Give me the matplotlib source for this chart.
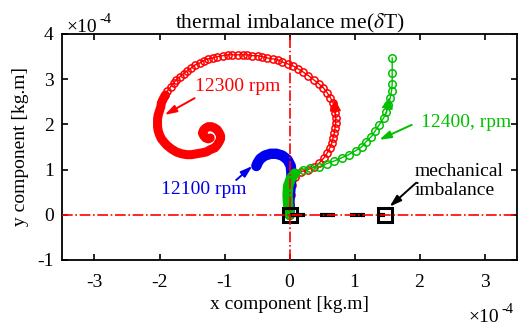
import numpy as np
import matplotlib
matplotlib.use("Agg")
import matplotlib.pyplot as plt
from matplotlib.patches import FancyArrowPatch

plt.rcParams['font.family'] = ['Liberation Serif', 'DejaVu Serif']
plt.rcParams['mathtext.fontset'] = 'stix'
plt.rcParams['axes.unicode_minus'] = False

SCALE = 1e-4  # all values below are in units of 1e-4 kg.m

# 12300 rpm: ring part (open circles) and the dense part that winds into the spiral
red_x = [0.00, 0.00, 0.02, 0.04, 0.09, 0.18, 0.28, 0.38, 0.46, 0.53, 0.58, 0.62, 0.65,
         0.67, 0.69, 0.70, 0.71, 0.71, 0.70, 0.69, 0.67, 0.63, 0.58, 0.52, 0.45, 0.37,
         0.29, 0.21, 0.13, 0.05, -0.03, -0.11, -0.18, -0.26, -0.34, -0.42, -0.49, -0.57,
         -0.65, -0.72, -0.80, -0.88, -0.95, -1.03, -1.11, -1.18, -1.26, -1.32, -1.38,
         -1.45, -1.51, -1.57, -1.63, -1.69, -1.74, -1.78, -1.83, -1.88, -1.91]
red_y = [0.00, 0.22, 0.44, 0.66, 0.84, 0.95, 1.00, 1.06, 1.15, 1.26, 1.37, 1.48, 1.59,
         1.70, 1.81, 1.92, 2.04, 2.15, 2.26, 2.37, 2.48, 2.59, 2.70, 2.81, 2.90, 2.99,
         3.08, 3.16, 3.23, 3.30, 3.34, 3.38, 3.43, 3.45, 3.47, 3.50, 3.52, 3.52, 3.54,
         3.54, 3.54, 3.54, 3.54, 3.52, 3.50, 3.47, 3.45, 3.41, 3.36, 3.32, 3.25, 3.19,
         3.12, 3.05, 2.99, 2.92, 2.83, 2.74, 2.65]
red_dense_x = [-1.91, -1.94, -1.97, -1.98, -2.00, -2.02, -2.03, -2.03, -2.03, -2.02, -2.00,
               -1.97, -1.92, -1.88, -1.82, -1.74, -1.66, -1.58, -1.51, -1.43, -1.35, -1.28,
               -1.22, -1.15, -1.11, -1.08, -1.06, -1.06, -1.08, -1.11, -1.15, -1.20, -1.25,
               -1.29, -1.32, -1.34, -1.32, -1.29, -1.25, -1.22]
red_dense_y = [2.65, 2.57, 2.48, 2.39, 2.30, 2.21, 2.12, 2.04, 1.95, 1.86, 1.77, 1.68, 1.59,
               1.53, 1.46, 1.39, 1.35, 1.33, 1.33, 1.35, 1.37, 1.39, 1.44, 1.48, 1.55, 1.62,
               1.68, 1.75, 1.81, 1.88, 1.92, 1.95, 1.95, 1.92, 1.88, 1.81, 1.75, 1.70, 1.68,
               1.70]

# 12100 rpm
blue_x = [0.00, 0.00, 0.02, 0.03, 0.02, -0.03, -0.11, -0.20, -0.29, -0.38, -0.45, -0.49, -0.51]
blue_y = [0.00, 0.33, 0.66, 0.91, 1.08, 1.22, 1.31, 1.35, 1.35, 1.31, 1.24, 1.15, 1.08]

# 12400 rpm: dense start, then open circles
green_dense_x = [0.00, -0.02, -0.03, -0.02, 0.02, 0.08]
green_dense_y = [0.00, 0.22, 0.44, 0.64, 0.80, 0.91]
green_x = [0.08, 0.20, 0.32, 0.45, 0.57, 0.69, 0.80, 0.91, 1.02, 1.11, 1.18, 1.26, 1.32,
           1.38, 1.45, 1.49, 1.52, 1.55, 1.57, 1.58, 1.58, 1.58]
green_y = [0.93, 1.00, 1.04, 1.06, 1.13, 1.19, 1.26, 1.33, 1.42, 1.50, 1.62, 1.73, 1.86,
           1.99, 2.15, 2.28, 2.43, 2.59, 2.74, 2.90, 3.14, 3.47]

# mechanical imbalance
mech_x = [0.00, 1.47]
mech_y = [0.00, 0.00]

x_ticks = [-3, -2, -1, 0, 1, 2, 3]
y_ticks = [-1, 0, 1, 2, 3, 4]
x_tick_labels = ['-3', '-2', '-1', '0', '1', '2', '3']
y_tick_labels = ['-1', '0', '1', '2', '3', '4']

fig = plt.figure(figsize=(5.29, 3.25), dpi=100)
ax = fig.add_axes([62 / 529, 1 - 260 / 325, 455 / 529, 226 / 325])

s = lambda v: np.array(v) * SCALE

# red
ax.plot(s(red_x), s(red_y), '-o', color='red', lw=1, ms=5.2, mew=1.1, mfc='none', zorder=2)
ax.plot(s(red_dense_x), s(red_dense_y), '-', color='red', lw=6.5,
        solid_capstyle='round', solid_joinstyle='round', zorder=2)
# blue
ax.plot(s(blue_x), s(blue_y), '-', color='#0000ee', lw=7.5,
        solid_capstyle='round', solid_joinstyle='round', zorder=3)
# green
ax.plot(s(green_dense_x), s(green_dense_y), '-', color='#00c000', lw=7.5,
        solid_capstyle='round', solid_joinstyle='round', zorder=4)
ax.plot(s(green_x), s(green_y), '-o', color='#00c000', lw=1, ms=5.4, mew=1.1, mfc='none', zorder=4)
# black
ax.plot(s(mech_x), s(mech_y), '-', color='black', lw=3, dashes=(3.6, 3.6),
        dash_capstyle='butt', zorder=5)
ax.plot(s(mech_x), s(mech_y), 's', color='black', ms=10, mew=2.2, mfc='none', zorder=6)

# reference axes
ax.axhline(0, color='red', ls='-.', lw=1.2, zorder=7)
ax.axvline(0, color='red', ls='-.', lw=1.2, zorder=7)

# direction arrow heads on curves
def head(p0, p1, color):
    ax.add_patch(FancyArrowPatch(s(p0), s(p1), arrowstyle='-|>,head_length=7,head_width=3.5',
                                 color=color, lw=1, shrinkA=0, shrinkB=0, zorder=8))

head((0.71, 2.10), (0.70, 2.55), 'red')
head((1.49, 2.25), (1.54, 2.60), '#00c000')

# labels with arrows
def label(text, xy_text, xy_tail, xy_head, color):
    ax.text(s(xy_text[0]), s(xy_text[1]), text, color=color, fontsize=14,
            ha='left', va='center', zorder=9)
    ax.annotate('', xy=s(xy_head), xytext=s(xy_tail),
                arrowprops=dict(arrowstyle='-|>,head_length=0.7,head_width=0.22',
                                color=color, lw=1.4, shrinkA=0, shrinkB=0), zorder=9)

label('12300 rpm', (-1.46, 2.83), (-1.46, 2.58), (-1.92, 2.21), 'red')
label('12100 rpm', (-1.97, 0.55), (-0.82, 0.77), (-0.57, 1.08), '#0000ee')
label('12400, rpm', (2.03, 2.04), (1.88, 1.99), (1.38, 1.66), '#00c000')
label('mechanical\nimbalance', (1.92, 0.75), (1.95, 0.71), (1.54, 0.18), 'black')

ax.set_xlim(-3.5e-4, 3.5e-4)
ax.set_ylim(-1e-4, 4e-4)
ax.set_xticks(s(x_ticks), x_tick_labels)
ax.set_yticks(s(y_ticks), y_tick_labels)
ax.tick_params(direction='in', top=True, right=True, labelsize=14, length=4, width=1.2)
ax.tick_params(axis='x', pad=10)
ax.tick_params(axis='y', pad=6)
for sp in ax.spines.values():
    sp.set_linewidth(1.3)

# exponent markers
ax.annotate('\u00d710', xy=(0.01, 1.0), xycoords='axes fraction', xytext=(0, 1.5),
            textcoords='offset points', fontsize=14, ha='left', va='baseline')
ax.annotate('-4', xy=(0.01, 1.0), xycoords='axes fraction', xytext=(24, 8),
            textcoords='offset points', fontsize=10.5, ha='left', va='baseline')
ax.annotate('\u00d710', xy=(1.0, 0.0), xycoords='axes fraction', xytext=(-35, -45),
            textcoords='offset points', fontsize=14, ha='left', va='baseline')
ax.annotate('-4', xy=(1.0, 0.0), xycoords='axes fraction', xytext=(-11, -38.5),
            textcoords='offset points', fontsize=10.5, ha='left', va='baseline')

ax.set_title('thermal imbalance me($\\delta$T)', fontsize=15.5, pad=4)
ax.set_xlabel('x component [kg.m]', fontsize=14, labelpad=4)
ax.set_ylabel('y component [kg.m]', fontsize=14, labelpad=6)

fig.savefig('out.png', dpi=100)
